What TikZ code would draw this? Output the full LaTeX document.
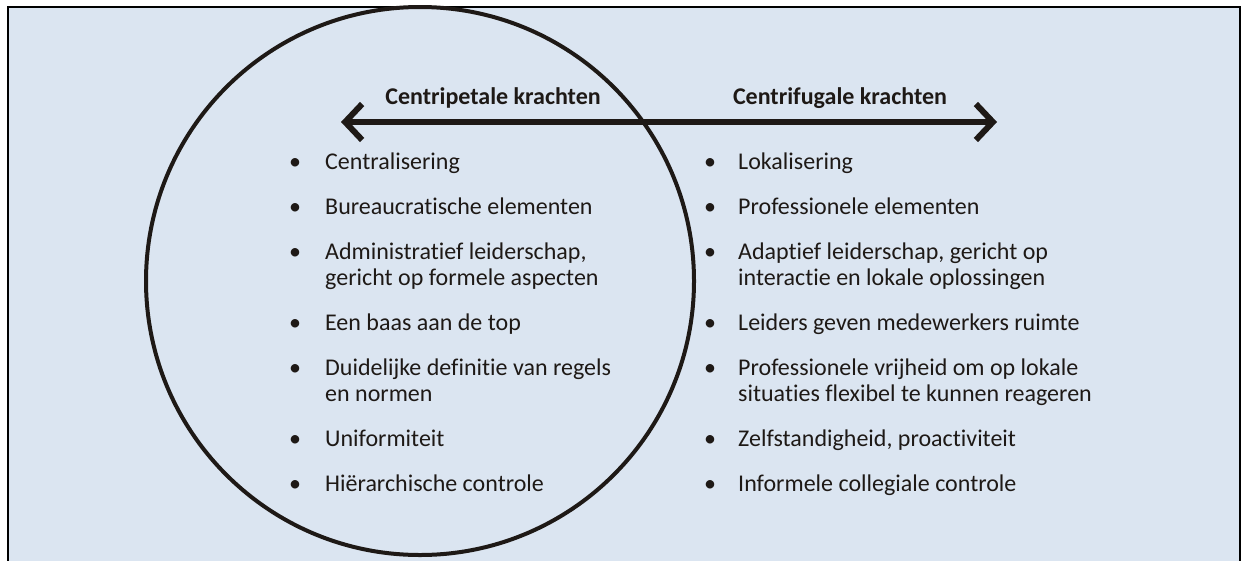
\documentclass[tikz,border=0pt]{standalone}
\usepackage{fontspec}
\setmainfont{Carlito}[Ligatures=NoCommon]
\usetikzlibrary{arrows.meta}
\definecolor{bg}{HTML}{DBE5F1}
\definecolor{ink}{HTML}{1E1916}
\begin{document}
\begin{tikzpicture}[x=1pt,y=-1pt,
  txt/.style={anchor=base west, inner sep=0pt, align=left, font=\fontsize{24}{26}\selectfont,
    text=ink},
  bul/.style={anchor=base, inner sep=0pt, font=\fontsize{24}{26}\selectfont, text=ink},
  head/.style={anchor=center, inner sep=0pt, font=\fontsize{24}{26}\selectfont\bfseries, text=ink},
  ring/.style={draw=ink, line width=4pt},
  force/.style={draw=ink, line width=6pt,
    {Straight Barb[length=17pt,width=36pt]}-{Straight Barb[length=17pt,width=36pt]}}]
\useasboundingbox (0,0) rectangle (1241,560);
\clip (0,0) rectangle (1241,560);
\fill[white] (0,0) rectangle (1241,560);
\fill[bg] (8,7) rectangle (1240,580);
\draw[black, line width=2.5pt] (8,580) -- (8,7) -- (1240,7) -- (1240,580);
% circle
\node[ring, circle, minimum size=548pt, inner sep=0pt] (c) at (420,281) {};
% arrow
\coordinate (l) at (341,122);
\coordinate (r) at (997,122);
\draw[force] (l) -- (r);
\node[head] (hl) at (493,98) {Centripetale krachten};
\node[head] (hr) at (840,98) {Centrifugale krachten};
% left column
\foreach \n/\y/\t in {1/169/{Centralisering},
  2/214/{Bureaucratische elementen},
  4/330/{Een baas aan de top},
  6/446/{Uniformiteit},
  7/491/{Hiërarchische controle}}{
  \node[bul] (lb\n) at (295,\y) {•};
  \node[txt] (lt\n) at (325,\y) {\t};
}
\node[bul] (lb3) at (295,259) {•};
\node[txt] (lt3) at (325,285) {Administratief leiderschap,\\gericht op formele aspecten};
\node[bul] (lb5) at (295,375) {•};
\node[txt] (lt5) at (325,401) {Duidelijke definitie van regels\\en normen};
% right column
\foreach \n/\y/\t in {1/169/{Lokalisering},
  2/214/{Professionele elementen},
  4/330/{Leiders geven medewerkers ruimte},
  6/446/{Zelfstandigheid, proactiviteit},
  7/491/{Informele collegiale controle}}{
  \node[bul] (rb\n) at (710,\y) {•};
  \node[txt] (rt\n) at (738,\y) {\t};
}
\node[bul] (rb3) at (710,259) {•};
\node[txt] (rt3) at (738,285) {Adaptief leiderschap, gericht op\\interactie en lokale oplossingen};
\node[bul] (rb5) at (710,375) {•};
\node[txt] (rt5) at (738,401) {Professionele vrijheid om op lokale\\situaties flexibel te kunnen reageren};
\end{tikzpicture}
\end{document}
